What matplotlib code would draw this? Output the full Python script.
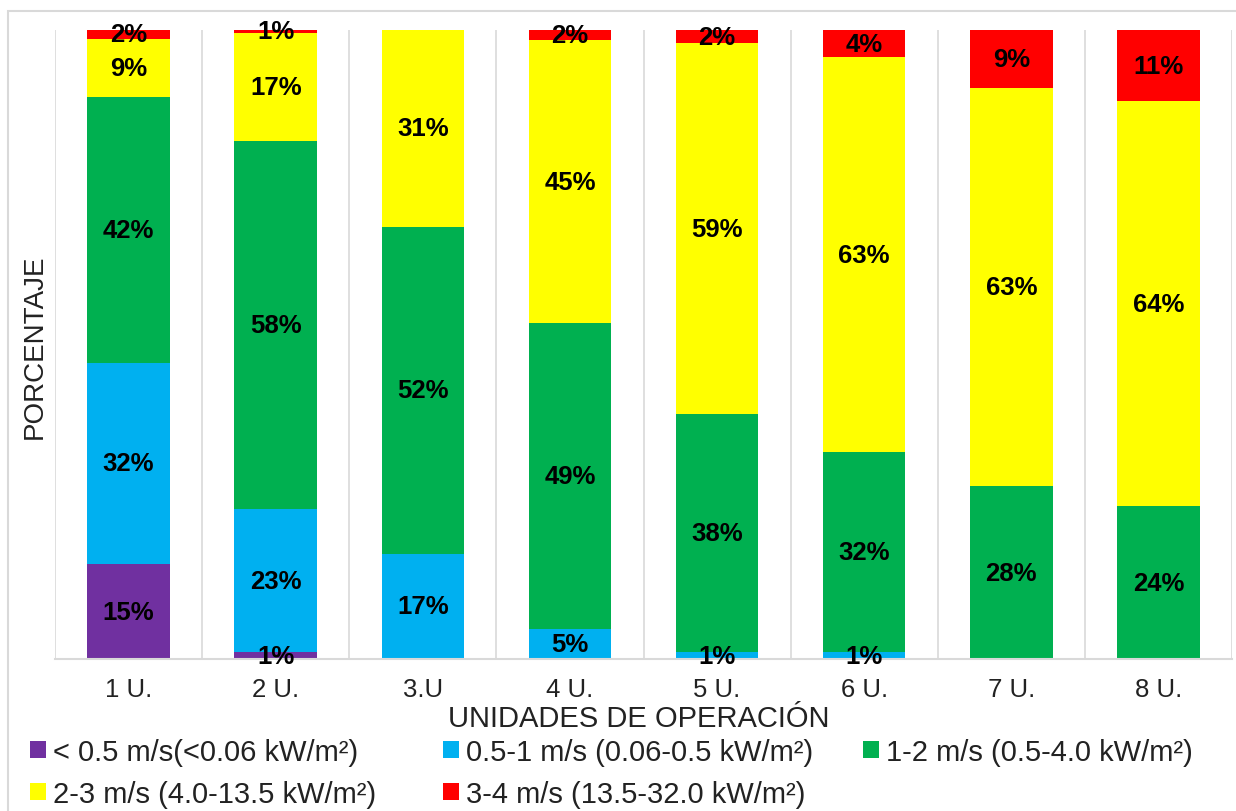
import numpy as np
import matplotlib
matplotlib.use("Agg")
import matplotlib.pyplot as plt
from matplotlib.patches import Rectangle

plt.rcParams['font.family'] = ['Liberation Sans', 'DejaVu Sans']

units = ["1 U.", "2 U.", "3.U", "4 U.", "5 U.", "6 U.", "7 U.", "8 U."]
series = [
    "< 0.5 m/s(<0.06 kW/m²)",
    "0.5-1 m/s (0.06-0.5 kW/m²)",
    "1-2 m/s (0.5-4.0 kW/m²)",
    "2-3 m/s (4.0-13.5 kW/m²)",
    "3-4 m/s (13.5-32.0 kW/m²)",
]
colors = ["#7030A0", "#00B0F0", "#00B050", "#FFFF00", "#FF0000"]

lt_05 = [15.1, 1.1, 0.0, 0.0, 0.0, 0.0, 0.0, 0.0]
v05_1 = [32.0, 22.7, 16.7, 4.8, 1.1, 1.1, 0.0, 0.0]
v1_2 = [42.2, 58.5, 52.0, 48.6, 37.8, 31.8, 27.5, 24.3]
v2_3 = [9.2, 17.2, 31.3, 45.0, 59.0, 62.8, 63.3, 64.4]
v3_4 = [1.6, 0.6, 0.0, 1.6, 2.1, 4.3, 9.2, 11.3]


def main():
    data = [lt_05, v05_1, v1_2, v2_3, v3_4]
    fig = plt.figure(figsize=(12.36, 8.12), dpi=100)
    ax = fig.add_axes([55 / 1236, 1 - 660 / 812, 1177 / 1236, 629 / 812])

    x = np.arange(len(units))
    bottom = np.zeros(len(units))
    handles = []
    for vals, name, col in zip(data, series, colors):
        vals = np.array(vals)
        bars = ax.bar(x, vals, 0.56, bottom=bottom, color=col, label=name, zorder=2)
        handles.append(bars)
        for xi, b, v in zip(x, bottom, vals):
            if v > 0:
                ax.text(xi, b + v / 2, f"{round(v)}%", ha="center", va="center",
                        fontsize=18.5, fontweight="bold", color="black", zorder=3)
        bottom += vals

    ax.set_xlim(-0.5, len(units) - 0.5)
    ax.set_ylim(0, 100)
    ax.set_yticks([])
    ax.set_xticks(x)
    ax.set_xticklabels(units, fontsize=18.5, color="#222222")
    ax.tick_params(axis="x", length=0, pad=13)
    for b in np.arange(-0.5, len(units), 1.0):
        ax.axvline(b, color="#d9d9d9", lw=1.2, zorder=1)
    for s in ["top", "right", "left"]:
        ax.spines[s].set_visible(False)
    ax.spines["bottom"].set_color("#d9d9d9")
    ax.spines["bottom"].set_linewidth(1.5)

    fig.text(639 / 1236, 1 - 719 / 812, "UNIDADES DE OPERACIÓN", fontsize=21,
             color="#222222", ha="center", va="center")
    fig.text(35 / 1236, 1 - 347 / 812, "PORCENTAJE", rotation=90, fontsize=20,
             color="#222222", ha="center", va="center")

    # legend: three columns placed by hand, rows filled left to right
    cols = [[0, 3], [1, 4], [2]]
    col_x = [30, 443, 863]
    for idx, cx in zip(cols, col_x):
        leg = fig.legend([handles[i] for i in idx], [series[i] for i in idx],
                         loc="upper left", bbox_to_anchor=(cx / 1236, 1 - 739 / 812),
                         frameon=False, fontsize=21, handlelength=0.55,
                         handleheight=0.55, handletextpad=0.25, labelspacing=0.47,
                         borderaxespad=0, borderpad=0)
        for t in leg.get_texts():
            t.set_color("#222222")

    fig.patches.append(Rectangle((8 / 1236, -0.05), 1.1, 1 - 12 / 812 + 0.05,
                                 transform=fig.transFigure, fill=False,
                                 edgecolor="#d9d9d9", lw=1.5))
    fig.savefig("out.png", dpi=100)


if __name__ == "__main__":
    main()
